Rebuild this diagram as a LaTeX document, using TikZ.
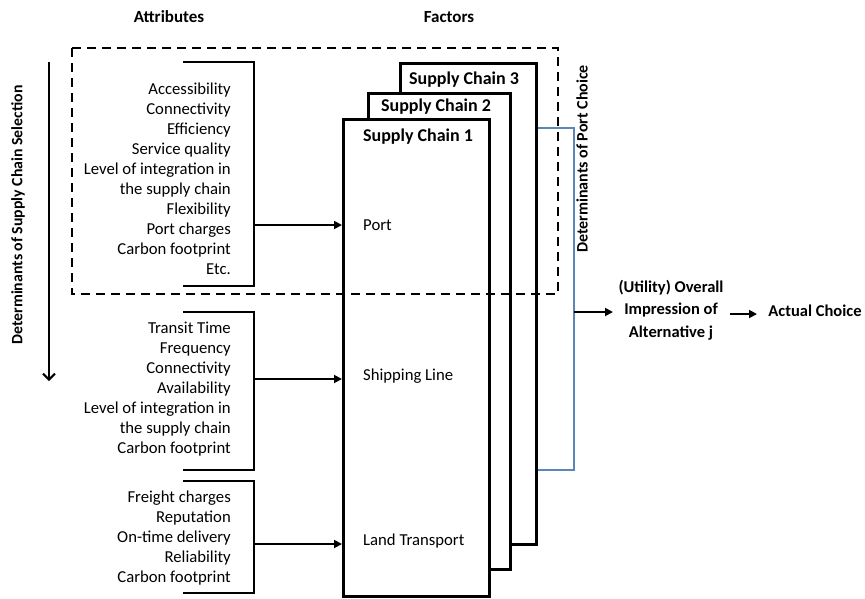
\documentclass[tikz,border=0pt]{standalone}
\usepackage{fontspec}
\setmainfont{Carlito}
\usetikzlibrary{arrows.meta}
\definecolor{bracketblue}{HTML}{5B86B8}
\begin{document}
\begin{tikzpicture}[x=1pt,y=-1pt,
  body/.style={font=\fontsize{16.7}{20}\selectfont, inner sep=0pt},
  attrtext/.style={body, align=right, anchor=east},
  bold/.style={font=\fontsize{17}{22.5}\selectfont\bfseries, inner sep=0pt},
  sclabel/.style={font=\fontsize{18}{22}\selectfont\bfseries, inner sep=0pt},
  scbox/.style={draw, line width=2.6pt, fill=white, anchor=north west, inner sep=0pt},
  brk/.style={line width=2.3pt},
  arr/.style={line width=1.8pt, -{Triangle[length=8pt,width=8pt]}},
  dashbox/.style={line width=2.3pt, dash pattern=on 9pt off 6pt},
  blueline/.style={draw=bracketblue, line width=1.5pt}
]
\useasboundingbox (0,0) rectangle (865,598);

% titles
\node[bold] (attrtitle) at (169,17) {Attributes};
\node[bold] (factitle) at (449,17) {Factors};

% supply chain boxes (back to front)
\node[scbox, minimum width=136, minimum height=481] (sc3) at (399,62) {};
\node[scbox, minimum width=142, minimum height=476] (sc2) at (367,92) {};
\node[scbox, minimum width=146, minimum height=477] (sc1) at (342,118) {};
\node[sclabel] (sc3lab) at (464,80) {Supply Chain 3};
\node[sclabel] (sc2lab) at (436,107) {Supply Chain 2};
\node[sclabel] (sc1lab) at (418,137) {Supply Chain 1};

% factor labels
\node[body, anchor=west] (port) at (363,225) {Port};
\node[body, anchor=west] (ship) at (363,376) {Shipping Line};
\node[body, anchor=west] (land) at (363,541) {Land Transport};

% attribute lists
\node[attrtext] (attr1) at (231,179) {Accessibility\\Connectivity\\Efficiency\\Service quality\\Level of integration in\\the supply chain\\Flexibility\\Port charges\\Carbon footprint\\Etc.};
\node[attrtext] (attr2) at (231,389) {Transit Time\\Frequency\\Connectivity\\Availability\\Level of integration in\\the supply chain\\Carbon footprint};
\node[attrtext] (attr3) at (231,538) {Freight charges\\Reputation\\On-time delivery\\Reliability\\Carbon footprint};

% brackets
\coordinate (b1t) at (183,62);
\coordinate (b1b) at (183,286);
\coordinate (b1m) at (254,225);
\draw[brk] (b1t) -- (254,62) -- (254,286) -- (b1b);
\coordinate (b2t) at (183,312);
\coordinate (b2b) at (183,470);
\coordinate (b2m) at (254,379);
\draw[brk] (b2t) -- (254,312) -- (254,470) -- (b2b);
\coordinate (b3t) at (183,481);
\coordinate (b3b) at (183,593);
\coordinate (b3m) at (254,544);
\draw[brk] (b3t) -- (254,481) -- (254,593) -- (b3b);

\draw[arr] (b1m) -- (sc1.west |- b1m);
\draw[arr] (b2m) -- (sc1.west |- b2m);
\draw[arr] (b3m) -- (sc1.west |- b3m);

% dashed box
\draw[dashbox] (72,48) rectangle (558,294);

% blue bracket
\coordinate (bl1) at (574,128);
\coordinate (bl2) at (574,470);
\coordinate (blm) at (574,312);
\draw[blueline] (sc3.east |- bl1) -- (bl1) -- (bl2) -- (sc3.east |- bl2);

% rotated labels
\node[font=\fontsize{16}{20}\selectfont\bfseries, inner sep=0pt, rotate=90] (detport) at (582,159) {Determinants of Port Choice};
\node[font=\fontsize{15.8}{18}\selectfont\bfseries, inner sep=0pt, rotate=90] (detsc) at (18,215) {Determinants of Supply Chain Selection};
\coordinate (va) at (49,62);
\coordinate (vb) at (49,381);
\draw[line width=2pt, -{Straight Barb[length=6pt,width=12pt]}] (va) -- (vb);

% outcome
\node[font=\fontsize{16.5}{22.5}\selectfont\bfseries, inner sep=0pt, align=center] (util) at (671,310) {(Utility) Overall\\Impression of\\Alternative j};
\node[font=\fontsize{16.5}{20}\selectfont\bfseries, inner sep=0pt] (actual) at (815,311) {Actual Choice};
\coordinate (ua) at (613,312);
\coordinate (ca) at (730,314);
\coordinate (cb) at (757,314);
\draw[arr] (blm) -- (ua);
\draw[arr] (ca) -- (cb);
\end{tikzpicture}
\end{document}
